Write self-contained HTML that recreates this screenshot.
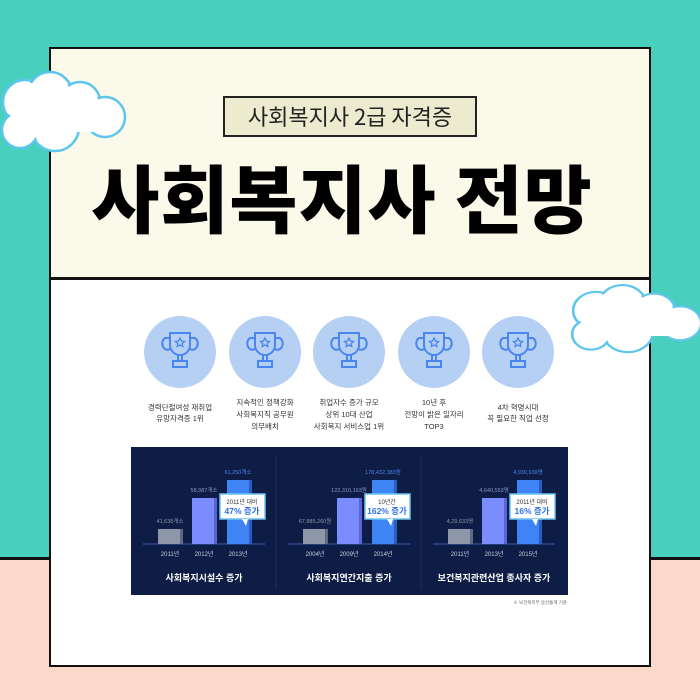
<!DOCTYPE html>
<html><head><meta charset="utf-8"><style>
body{margin:0;width:700px;height:700px;overflow:hidden;position:relative;font-family:"Liberation Sans","Noto Sans CJK KR",sans-serif;}
.bgt{position:absolute;left:0;top:0;width:700px;height:557px;background:#48cfbe;border-bottom:3px solid #111;}
.bgb{position:absolute;left:0;top:560px;width:700px;height:140px;background:#fdd7c9;}
.card{position:absolute;left:49px;top:47px;width:598px;height:616px;border:2px solid #111;background:#fff;}
.head{position:absolute;left:0;top:0;width:598px;height:228px;background:#fbf9e9;border-bottom:3px solid #111;}
.sub{position:absolute;left:172px;top:47px;width:250px;height:37px;border:2px solid #222;background:#eceacf;font-size:22px;line-height:37px;text-align:center;color:#222;font-family:"Noto Sans CJK KR",sans-serif;}
.title{position:absolute;left:-8px;width:598px;top:97px;text-align:center;font-family:"Noto Sans CJK KR",sans-serif;font-weight:900;font-size:74px;line-height:100px;color:#000;letter-spacing:1px;}
svg{position:absolute;}
</style></head><body>
<div class="bgt"></div><div class="bgb"></div>
<div class="card"><div class="head"><div class="sub">사회복지사 2급 자격증</div><div class="title">사회복지사 전망</div></div></div>

<svg width="700" height="700" style="left:0;top:0" font-family="Liberation Sans, Noto Sans CJK KR, sans-serif">
<defs><g id="cl">
<g fill="#fff" stroke="#5ec6ec" stroke-width="2.5">
<circle cx="25" cy="30" r="22"/><circle cx="50" cy="22" r="22"/><circle cx="80" cy="30" r="20"/><circle cx="105" cy="45" r="20"/><circle cx="55" cy="55" r="24"/><circle cx="20" cy="58" r="18"/>
</g>
<g fill="#fff"><circle cx="25" cy="30" r="20"/><circle cx="50" cy="22" r="20"/><circle cx="80" cy="30" r="18"/><circle cx="105" cy="45" r="18"/><circle cx="55" cy="55" r="22"/><circle cx="20" cy="58" r="16"/><rect x="25" y="30" width="80" height="30"/></g>
</g>
<g id="tr" fill="none" stroke="#4a86f0" stroke-width="2">
<path d="M-10 -17 h20 v12 a10 10 0 0 1 -20 0 z"/><path d="M-10 -12 h-5 a5 6 0 0 0 5 11 M10 -12 h5 a5 6 0 0 1 -5 11"/><path d="M-2 5 v6 h4 v-6 M-7 11 h14 v6 h-14 z"/><path d="M0 -12 l1.5 3 3 .5 -2.3 2 .6 3 -2.8 -1.5 -2.8 1.5 .6 -3 -2.3 -2 3 -.5z" stroke-width="1.3"/>
</g></defs>
<use href="#cl" x="0" y="72"/>
<use href="#cl" x="570" y="285" transform="translate(570,285) scale(1.05,0.85) translate(-570,-285)"/>

<g>
<circle cx="180" cy="352" r="36" fill="#b6d0f4"/><use href="#tr" x="180" y="350"/>
<circle cx="265" cy="352" r="36" fill="#b6d0f4"/><use href="#tr" x="265" y="350"/>
<circle cx="349" cy="352" r="36" fill="#b6d0f4"/><use href="#tr" x="349" y="350"/>
<circle cx="434" cy="352" r="36" fill="#b6d0f4"/><use href="#tr" x="434" y="350"/>
<circle cx="518" cy="352" r="36" fill="#b6d0f4"/><use href="#tr" x="518" y="350"/>
</g>
<g font-size="7.5" fill="#333" text-anchor="middle">
<text x="180" y="410">경력단절여성 재취업</text><text x="180" y="421">유망자격증 1위</text>
<text x="265" y="405">지속적인 정책강화</text><text x="265" y="417">사회복지직 공무원</text><text x="265" y="429">의무배치</text>
<text x="349" y="405">취업자수 증가 규모</text><text x="349" y="417">상위 10대 산업</text><text x="349" y="429">사회복지 서비스업 1위</text>
<text x="434" y="405">10년 후</text><text x="434" y="417">전망이 밝은 일자리</text><text x="434" y="429">TOP3</text>
<text x="518" y="410">4차 혁명시대</text><text x="518" y="421">꼭 필요한 직업 선정</text>
</g>

<rect x="131" y="447" width="437" height="148" fill="#0e1d45"/>
<line x1="276" y1="455" x2="276" y2="590" stroke="#1c2d5a"/><line x1="421" y1="455" x2="421" y2="590" stroke="#1c2d5a"/>
<g id="s1">
<line x1="143" y1="544" x2="265" y2="544" stroke="#2d4787" stroke-width="1.5"/>
<rect x="158" y="529" width="22" height="15" fill="#8e97aa"/><rect x="180" y="529" width="3" height="15" fill="#5f687c"/>
<rect x="192" y="498" width="22" height="46" fill="#7b8cff"/><rect x="214" y="498" width="3" height="46" fill="#5a63d8"/>
<rect x="227" y="480" width="22" height="64" fill="#3e84f5"/><rect x="249" y="480" width="3" height="64" fill="#2a5dc0"/>
<rect x="220" y="494" width="45" height="25" fill="#fff" stroke="#6cc3f0" stroke-width="1.5"/>
<path d="M242 519 l6 0 l-2 7z" fill="#fff"/>
</g>
<use href="#s1" x="145"/><use href="#s1" x="290"/>
<g font-size="5.5" text-anchor="middle">
<text x="170" y="523" fill="#8d95a8">41,638개소</text><text x="204" y="492" fill="#8d95c8">58,987개소</text><text x="238" y="474" fill="#4a86f0">61,250개소</text>
<text x="315" y="523" fill="#8d95a8">67,985,260원</text><text x="349" y="492" fill="#8d95c8">122,310,193원</text><text x="383" y="474" fill="#4a86f0">178,432,383원</text>
<text x="460" y="523" fill="#8d95a8">4,29,633명</text><text x="494" y="492" fill="#8d95c8">4,640,553명</text><text x="528" y="474" fill="#4a86f0">4,930,939명</text>
</g>
<g font-size="6" fill="#c8cfe0" text-anchor="middle">
<text x="170" y="556">2011년</text><text x="204" y="556">2012년</text><text x="238" y="556">2013년</text>
<text x="315" y="556">2004년</text><text x="349" y="556">2009년</text><text x="383" y="556">2014년</text>
<text x="460" y="556">2011년</text><text x="494" y="556">2013년</text><text x="528" y="556">2015년</text>
</g>
<g text-anchor="middle">
<text x="242" y="504" font-size="6" fill="#333">2011년 대비</text><text x="242" y="514" font-size="8.5" font-weight="bold" fill="#2c6fe8">47% 증가</text>
<text x="387" y="504" font-size="6" fill="#333">10년간</text><text x="387" y="514" font-size="8.5" font-weight="bold" fill="#2c6fe8">162% 증가</text>
<text x="532" y="504" font-size="6" fill="#333">2011년 대비</text><text x="532" y="514" font-size="8.5" font-weight="bold" fill="#2c6fe8">16% 증가</text>
</g>
<g font-size="9" font-weight="bold" fill="#fff" text-anchor="middle">
<text x="204" y="581">사회복지시설수 증가</text><text x="349" y="581">사회복지연간지출 증가</text><text x="494" y="581">보건복지관련산업 종사자 증가</text>
</g>
<text x="567" y="604" font-size="4.5" fill="#666" text-anchor="end">※ 보건복지부 승인통계 기준</text>
</svg>
</body></html>
